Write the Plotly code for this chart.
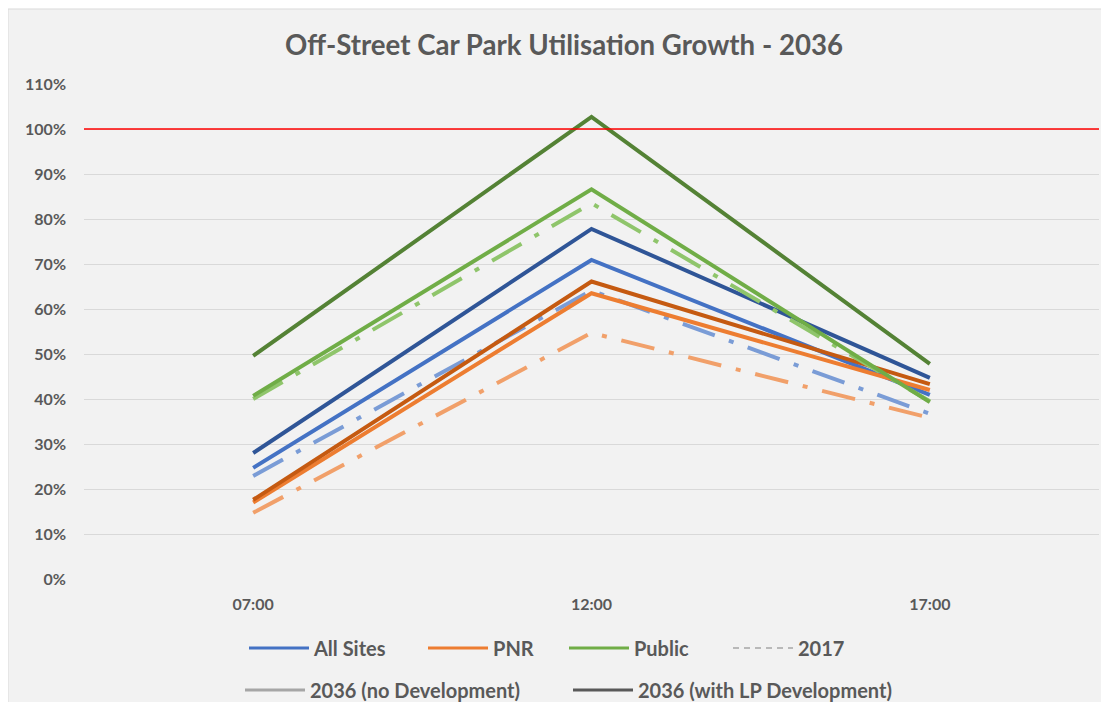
import plotly.graph_objects as go

# ---- data ----
times = ["07:00", "12:00", "17:00"]

all_sites_2017 = [0.229, 0.641, 0.367]
all_sites_2036 = [0.247, 0.709, 0.409]
all_sites_lp = [0.280, 0.778, 0.447]

pnr_2017 = [0.147, 0.547, 0.358]
pnr_2036 = [0.170, 0.635, 0.420]
pnr_lp = [0.176, 0.661, 0.433]

public_2017 = [0.400, 0.835, 0.395]
public_2036 = [0.407, 0.866, 0.393]
public_lp = [0.496, 1.027, 0.478]

capacity_line = 1.0

y_ticks = [i / 10 for i in range(12)]
y_tick_labels = [f"{i * 10}%" for i in range(12)]

legend_names = ["All Sites", "PNR", "Public", "2017",
                "2036 (no Development)", "2036 (with LP Development)"]

# ---- layout helpers (page pixel coords; page body has an 8px margin) ----
OFF = 8
W, H = 1109 - OFF, 702 - OFF
PL, PR, PT, PB = 84, 1099, 84, 579          # plot area in page px
PW, PH = PR - PL, PB - PT


def px_x(x):
    return (x - PL) / PW


def px_y(y):
    return (PB - y) / PH


FONT = "Lato"
TXT = "#595959"
DASHDOT = "34px,15px,5px,15px"

fig = go.Figure()

series = [
    (all_sites_2017, "#7A9CD6", DASHDOT),
    (all_sites_2036, "#4472C4", "solid"),
    (all_sites_lp, "#2F5597", "solid"),
    (pnr_2017, "#F1A06A", DASHDOT),
    (pnr_2036, "#ED7D31", "solid"),
    (pnr_lp, "#C55A11", "solid"),
    (public_2017, "#8FC56B", DASHDOT),
    (public_2036, "#70AD47", "solid"),
    (public_lp, "#548235", "solid"),
]
for vals, col, dash in series:
    fig.add_trace(go.Scatter(
        x=times, y=vals, mode="lines", showlegend=False,
        line=dict(color=col, width=4, dash=dash), hoverinfo="skip"))

# legend entries (dummy traces)
legend_styles = [
    ("#4472C4", "solid", 3, "legend", 250, 648),
    ("#ED7D31", "solid", 3, "legend2", 429, 648),
    ("#70AD47", "solid", 3, "legend3", 570, 648),
    ("#A6A6A6", "6px,5px", 1.5, "legend4", 734, 648),
    ("#A6A6A6", "solid", 3, "legend5", 246, 690),
    ("#595959", "solid", 3, "legend6", 574, 690),
]
legend_layouts = {}
for name, (col, dash, w, lg, lx, ly) in zip(legend_names, legend_styles):
    fig.add_trace(go.Scatter(
        x=[None], y=[None], mode="lines", name=name, legend=lg,
        line=dict(color=col, width=w, dash=dash)))
    legend_layouts[lg] = dict(
        x=px_x(lx - 6), y=px_y(ly), xanchor="left", yanchor="middle",
        orientation="h", bgcolor="rgba(0,0,0,0)",
        font=dict(family=FONT, size=20, color=TXT, weight=700),
        itemwidth=60)

fig.update_layout(**legend_layouts)

fig.add_shape(type="rect", xref="paper", yref="paper", layer="below",
              x0=px_x(8), x1=px_x(1106), y0=px_y(720), y1=px_y(9),
              fillcolor="#F2F2F2", line=dict(color="#D9D9D9", width=1))
fig.add_shape(type="line", xref="paper", yref="y",
              x0=0, x1=1, y0=capacity_line, y1=capacity_line,
              line=dict(color="#FF0000", width=1.5))

fig.update_layout(
    width=W, height=H,
    margin=dict(l=PL - OFF, r=(W + OFF) - PR, t=PT - OFF, b=(H + OFF) - PB,
                pad=0, autoexpand=False),
    paper_bgcolor="white", plot_bgcolor="rgba(0,0,0,0)",
    title=dict(text="Off-Street Car Park Utilisation Growth - 2036",
               x=(564 - OFF) / W, xanchor="center", xref="container",
               y=1 - (45 - OFF) / H, yanchor="middle", yref="container",
               font=dict(family=FONT, size=27.6, color=TXT, weight=700)),
    xaxis=dict(range=[-0.5, 2.5], showgrid=False, zeroline=False,
               showline=False, ticks="",
               tickfont=dict(family=FONT, size=16, color=TXT, weight=700),
               ticklabelstandoff=14, fixedrange=True),
    yaxis=dict(range=[0, 1.1], tickvals=y_ticks, ticktext=y_tick_labels,
               showgrid=True, gridcolor="#D9D9D9", gridwidth=1,
               zeroline=False, showline=False, ticks="",
               tickfont=dict(family=FONT, size=16, color=TXT, weight=700),
               ticklabelstandoff=17, fixedrange=True),
)

fig.write_html("out.html")
